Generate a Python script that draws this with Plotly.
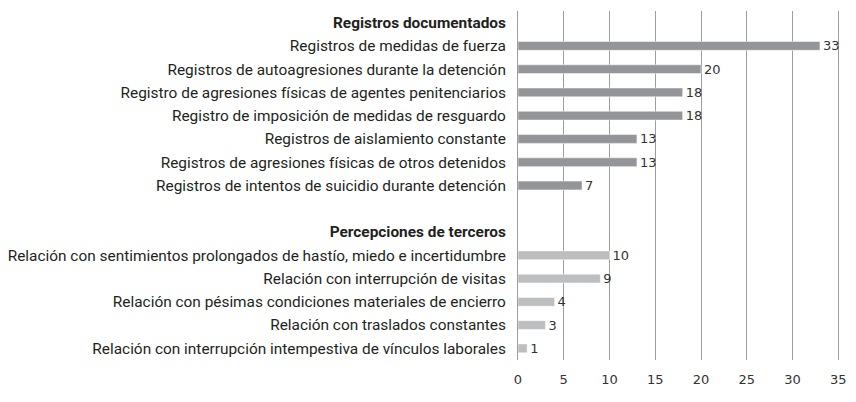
import plotly.graph_objects as go

header_doc = "<b>Registros documentados</b>"
header_per = "<b>Percepciones de terceros</b>"

doc_labels = [
    "Registros de medidas de fuerza",
    "Registros de autoagresiones durante la detención",
    "Registro de agresiones físicas de agentes penitenciarios",
    "Registro de imposición de medidas de resguardo",
    "Registros de aislamiento constante",
    "Registros de agresiones físicas de otros detenidos",
    "Registros de intentos de suicidio durante detención",
]
doc_values = [33, 20, 18, 18, 13, 13, 7]

per_labels = [
    "Relación con sentimientos prolongados de hastío, miedo e incertidumbre",
    "Relación con interrupción de visitas",
    "Relación con pésimas condiciones materiales de encierro",
    "Relación con traslados constantes",
    "Relación con interrupción intempestiva de vínculos laborales",
]
per_values = [10, 9, 4, 3, 1]

x_ticks = [0, 5, 10, 15, 20, 25, 30, 35]

order = [header_doc] + doc_labels + [" "] + [header_per] + per_labels

fig = go.Figure()
fig.add_trace(go.Bar(
    y=doc_labels, x=doc_values, orientation="h",
    marker=dict(color="#939598", line=dict(color="white", width=0.5)),
    text=doc_values, textposition="outside", cliponaxis=False,
    constraintext="none",
    textfont=dict(family="DejaVu Sans", size=13, color="#333333"),
    width=0.38,
))
fig.add_trace(go.Bar(
    y=per_labels, x=per_values, orientation="h",
    marker=dict(color="#bcbec0", line=dict(color="white", width=0.5)),
    text=per_values, textposition="outside", cliponaxis=False,
    constraintext="none",
    textfont=dict(family="DejaVu Sans", size=13, color="#333333"),
    width=0.38,
))

fig.update_layout(
    width=848, height=380,
    margin=dict(l=510, r=15, t=3, b=28),
    paper_bgcolor="white", plot_bgcolor="white",
    showlegend=False,
    barmode="overlay",
    font=dict(family="Roboto", size=15.4, color="#231f20"),
    xaxis=dict(
        range=[0, 35.3], tickvals=x_ticks, showgrid=True,
        gridcolor="#9d9d9d", gridwidth=1, zeroline=False,
        showline=False, ticks="", automargin=False,
        ticklabelstandoff=10, ticklabeloverflow="allow",
        tickfont=dict(family="DejaVu Sans", size=13, color="#333333"),
    ),
    yaxis=dict(
        type="category", categoryorder="array", categoryarray=order,
        range=[len(order) - 0.5, -0.5], showgrid=False,
        showline=True, linecolor="#9d9d9d", linewidth=1,
        ticks="", ticklabelstandoff=8, automargin=False,
    ),
)

fig.write_html("out.html")
